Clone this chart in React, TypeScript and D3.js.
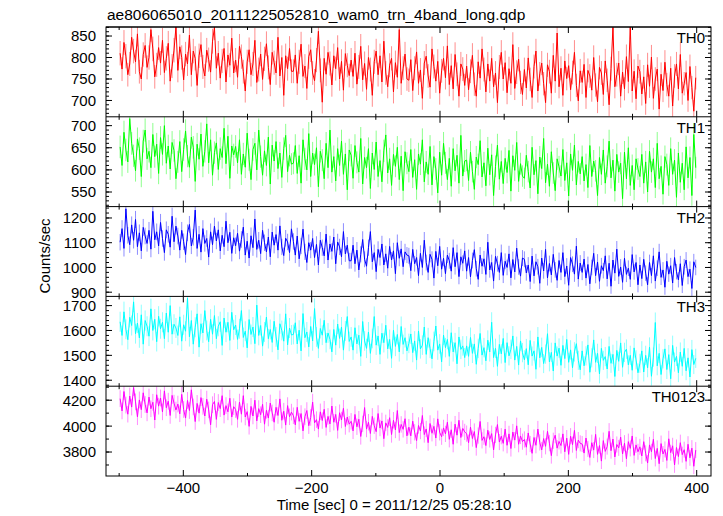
import React from "react";
import * as d3 from "d3";

const TITLE = "ae806065010_20111225052810_wam0_trn_4band_long.qdp";
const X_LABEL = "Time [sec] 0 = 2011/12/25 05:28:10";
const Y_LABEL = "Counts/sec";

const BIN_START = -498.5;
const BIN_WIDTH = 3;

const X_MAJOR = [-400, -200, 0, 200, 400];
const X_MINOR = [-500, -300, -100, 100, 300];

const PANEL_NAMES = ["TH0", "TH1", "TH2", "TH3", "TH0123"];
const COLORS = ["#ff0000", "#00ff00", "#0000ff", "#00ffff", "#ff00ff"];
const Y_DOMAINS = [
  [662, 871],
  [517, 720],
  [883, 1246],
  [1376, 1737],
  [3615, 4308],
];
const Y_MAJOR = [
  [700, 750, 800, 850],
  [550, 600, 650, 700],
  [900, 1000, 1100, 1200],
  [1400, 1500, 1600, 1700],
  [3800, 4000, 4200],
];
const Y_MINOR_STEP = [10, 10, 20, 20, 100];

const TH0 = [
  810, 773, 835, 803, 760, 785, 847, 815, 790, 855, 767, 750, 807, 828, 777, 800, 865, 820, 755, 783, 823, 787, 840, 765, 798, 833, 745, 780, 817, 871,
  770, 825, 800, 748, 808, 785, 852, 760, 815, 798, 735, 804, 830, 778, 757, 817, 795, 766, 838, 870, 775, 810, 752, 792, 821, 743, 806, 782, 845, 764,
  794, 754, 826, 802, 767, 722, 790, 818, 760, 785, 840, 742, 772, 808, 749, 797, 832, 777, 737, 812, 788, 764, 847, 757, 800, 712, 804, 774, 821, 768,
  768, 806, 740, 790, 831, 756, 780, 728, 802, 818, 764, 746, 794, 861, 770, 696, 798, 761, 812, 786, 736, 804, 774, 823, 750, 791, 724, 809, 782, 758,
  794, 756, 810, 738, 778, 826, 748, 786, 726, 800, 772, 712, 790, 815, 760, 804, 743, 838, 764, 732, 782, 798, 720, 788, 754, 865, 740, 775, 808, 750,
  747, 795, 723, 775, 813, 740, 771, 705, 787, 803, 757, 731, 820, 779, 745, 791, 717, 769, 798, 753, 827, 737, 781, 727, 807, 761, 710, 785, 773, 735,
  780, 725, 768, 805, 738, 710, 790, 752, 820, 772, 720, 785, 745, 798, 732, 764, 695, 778, 812, 750, 788, 718, 774, 740, 830, 728, 766, 796, 742, 714,
  772, 729, 799, 749, 707, 779, 815, 722, 762, 787, 739, 695, 783, 767, 717, 805, 745, 857, 732, 775, 712, 792, 751, 781, 725, 765, 812, 735, 699, 769,
  742, 784, 707, 770, 757, 724, 800, 736, 697, 777, 764, 714, 792, 747, 690, 774, 870, 732, 760, 787, 710, 766, 727, 802, 744, 872, 722, 768, 704, 780,
  767, 715, 755, 693, 783, 733, 801, 705, 750, 773, 680, 761, 723, 789, 737, 710, 775, 687, 757, 785, 727, 807, 717, 739, 765, 700, 779, 730, 675, 753,
];
const TH1 = [
  652, 610, 685, 645, 618, 716, 660, 632, 598, 670, 648, 585, 665, 690, 625, 642, 605, 680, 630, 658, 592, 673, 635, 700, 615, 654, 602, 662, 644, 580,
  618, 664, 596, 646, 688, 631, 606, 674, 651, 574, 658, 624, 681, 608, 642, 704, 616, 668, 588, 639, 661, 601, 648, 628, 694, 614, 676, 581, 654, 634,
  653, 616, 668, 590, 636, 606, 683, 623, 578, 646, 660, 600, 690, 630, 588, 643, 610, 674, 568, 656, 620, 664, 603, 638, 583, 648, 678, 596, 633, 613,
  615, 655, 592, 632, 570, 668, 625, 600, 682, 585, 638, 612, 650, 562, 642, 622, 580, 660, 605, 690, 595, 630, 575, 648, 610, 665, 590, 636, 555, 645,
  633, 581, 655, 617, 595, 671, 568, 628, 605, 648, 558, 638, 601, 663, 585, 621, 573, 643, 679, 593, 625, 565, 635, 608, 651, 578, 631, 553, 641, 615,
  596, 646, 583, 623, 556, 636, 613, 668, 573, 618, 590, 653, 566, 630, 602, 548, 640, 588, 660, 616, 578, 626, 563, 648, 598, 633, 570, 678, 586, 620,
  622, 576, 640, 596, 556, 629, 612, 666, 584, 616, 564, 649, 589, 634, 542, 608, 656, 579, 619, 569, 626, 594, 644, 552, 632, 599, 662, 574, 614, 586,
  581, 633, 596, 559, 651, 589, 621, 546, 629, 603, 671, 571, 613, 563, 641, 593, 553, 625, 607, 586, 646, 576, 616, 541, 636, 599, 656, 566, 619, 591,
  630, 575, 612, 560, 655, 585, 620, 598, 542, 628, 590, 645, 570, 608, 665, 582, 622, 552, 635, 595, 615, 535, 640, 580, 650, 565, 610, 555, 625, 602,
  585, 635, 570, 618, 550, 642, 595, 625, 560, 660, 580, 608, 545, 630, 612, 565, 648, 590, 622, 538, 638, 572, 615, 555, 652, 582, 628, 542, 680, 605,
];
const TH2 = [
  1102, 1157, 1077, 1237, 1130, 1092, 1172, 1110, 1194, 1084, 1140, 1067, 1162, 1127, 1097, 1150, 1074, 1227, 1112, 1144, 1087, 1182, 1117, 1060, 1152, 1134, 1082, 1207, 1104, 1167,
  1127, 1070, 1150, 1104, 1052, 1140, 1174, 1087, 1122, 1232, 1077, 1134, 1062, 1157, 1097, 1117, 1042, 1144, 1092, 1167, 1107, 1152, 1067, 1130, 1084, 1187, 1100, 1142, 1057, 1120,
  1088, 1138, 1066, 1113, 1163, 1050, 1106, 1038, 1128, 1080, 1196, 1073, 1110, 1056, 1150, 1100, 1063, 1123, 1043, 1143, 1090, 1133, 1070, 1168, 1083, 1048, 1118, 1103, 1060, 1156,
  1105, 1050, 1127, 1035, 1087, 1155, 1063, 1020, 1100, 1070, 1117, 1040, 1093, 1010, 1110, 1080, 1047, 1135, 1030, 1095, 1065, 1123, 1015, 1103, 1083, 1043, 1145, 1055, 1090, 1027,
  1027, 1090, 1015, 1070, 990, 1053, 1113, 1033, 1005, 1080, 1145, 1023, 1060, 983, 1073, 1040, 1095, 1010, 1055, 997, 1085, 1030, 1067, 975, 1100, 1037, 1075, 1003, 1063, 1050,
  1047, 987, 1073, 1015, 1040, 967, 1057, 1000, 1110, 1020, 980, 1053, 1033, 957, 1065, 1007, 1085, 993, 1037, 975, 1050, 1027, 985, 1080, 1003, 1060, 963, 1043, 1017, 1067,
  985, 1040, 962, 1028, 1072, 995, 952, 1050, 1005, 1035, 972, 1102, 990, 1020, 945, 1045, 1015, 980, 1060, 968, 1025, 1000, 1055, 958, 1032, 982, 1078, 1002, 965, 1038,
  1033, 978, 1010, 943, 1046, 966, 1023, 1003, 936, 1038, 986, 1073, 958, 1016, 970, 1053, 990, 948, 1028, 980, 1060, 963, 1006, 928, 1040, 1013, 973, 1086, 953, 1018,
  980, 1034, 957, 1012, 934, 1000, 1057, 967, 1022, 944, 1007, 987, 1047, 954, 1017, 924, 1030, 977, 1074, 964, 1002, 940, 1037, 972, 997, 952, 1052, 982, 1020, 930,
  1010, 955, 1033, 977, 930, 1020, 967, 1047, 945, 997, 1063, 960, 990, 920, 1025, 973, 1007, 937, 1040, 983, 950, 1015, 927, 1003, 1030, 963, 993, 915, 1023, 1000,
];
const TH3 = [
  1635, 1580, 1675, 1605, 1563, 1653, 1620, 1715, 1587, 1630, 1570, 1663, 1545, 1640, 1617, 1577, 1687, 1600, 1645, 1555, 1657, 1607, 1633, 1567, 1670, 1593, 1700, 1585, 1625, 1610,
  1580, 1655, 1557, 1623, 1597, 1730, 1575, 1640, 1545, 1613, 1667, 1533, 1627, 1590, 1680, 1600, 1555, 1645, 1585, 1660, 1567, 1617, 1635, 1540, 1650, 1593, 1633, 1560, 1673, 1603,
  1622, 1564, 1607, 1680, 1572, 1597, 1530, 1644, 1584, 1614, 1547, 1702, 1580, 1620, 1537, 1594, 1654, 1567, 1604, 1552, 1637, 1574, 1522, 1627, 1600, 1557, 1667, 1542, 1610, 1582,
  1584, 1631, 1546, 1601, 1518, 1668, 1571, 1594, 1534, 1616, 1558, 1688, 1574, 1528, 1608, 1581, 1641, 1551, 1590, 1564, 1514, 1604, 1541, 1626, 1568, 1614, 1521, 1598, 1656, 1556,
  1574, 1521, 1611, 1546, 1581, 1496, 1636, 1558, 1528, 1594, 1508, 1568, 1656, 1541, 1578, 1504, 1589, 1551, 1621, 1526, 1564, 1488, 1601, 1536, 1584, 1514, 1616, 1544, 1571, 1518,
  1548, 1586, 1511, 1558, 1481, 1598, 1526, 1541, 1614, 1504, 1571, 1528, 1486, 1556, 1618, 1521, 1546, 1474, 1581, 1531, 1564, 1496, 1591, 1514, 1551, 1466, 1574, 1524, 1538, 1491,
  1538, 1496, 1572, 1508, 1546, 1464, 1528, 1588, 1501, 1531, 1478, 1561, 1514, 1633, 1491, 1528, 1456, 1544, 1506, 1568, 1471, 1551, 1498, 1524, 1578, 1481, 1536, 1461, 1558, 1511,
  1482, 1527, 1462, 1560, 1497, 1518, 1444, 1574, 1490, 1532, 1467, 1505, 1587, 1474, 1512, 1437, 1550, 1497, 1529, 1460, 1540, 1487, 1564, 1472, 1522, 1450, 1514, 1547, 1480, 1442,
  1518, 1458, 1498, 1542, 1432, 1490, 1562, 1472, 1508, 1425, 1528, 1480, 1495, 1445, 1536, 1468, 1504, 1415, 1520, 1476, 1550, 1452, 1512, 1525, 1462, 1500, 1440, 1530, 1482, 1430,
  1468, 1518, 1433, 1500, 1450, 1533, 1416, 1493, 1632, 1458, 1508, 1423, 1486, 1526, 1443, 1503, 1406, 1540, 1473, 1496, 1430, 1513, 1456, 1528, 1438, 1490, 1413, 1523, 1463, 1488,
];
const TH0123 = [
  4212, 4117, 4267, 4162, 4092, 4232, 4147, 4298, 4187, 4072, 4202, 4127, 4257, 4167, 4102, 4224, 4134, 4184, 4047, 4242, 4154, 4217, 4110, 4272, 4142, 4192, 4082, 4237, 4177, 4124,
  4170, 4095, 4245, 4128, 4062, 4198, 4120, 4280, 4148, 4035, 4175, 4100, 4220, 4152, 4078, 4208, 4125, 4010, 4165, 4190, 4052, 4182, 4135, 4235, 4085, 4158, 4110, 4215, 4070, 4150,
  4128, 4052, 4185, 4092, 4235, 4070, 4112, 3998, 4152, 4078, 4200, 4040, 4135, 4088, 4168, 4015, 4122, 4062, 4178, 4102, 4030, 4145, 4082, 4210, 4045, 4115, 4008, 4158, 4072, 4108,
  4080, 4010, 4145, 4037, 4097, 3963, 4073, 4120, 4003, 4067, 4185, 4025, 4050, 3977, 4110, 4043, 4130, 3990, 4075, 4017, 4155, 4030, 4090, 3967, 4103, 4047, 4137, 3997, 4070, 4015,
  4037, 3963, 4090, 3995, 4053, 3920, 4017, 4143, 3977, 4030, 3943, 4075, 4003, 3957, 4097, 3985, 4040, 3903, 4025, 3990, 4065, 3935, 4045, 3970, 4120, 3950, 4013, 3975, 4057, 3925,
  3992, 3925, 4038, 3952, 3888, 4005, 3962, 4082, 3935, 3978, 3872, 4020, 3945, 3998, 3908, 4056, 3952, 3918, 3986, 3940, 4030, 3898, 3972, 3860, 4015, 3930, 4045, 3912, 3982, 3955,
  3942, 3872, 3992, 3904, 3958, 3834, 3927, 4036, 3890, 3918, 3850, 3968, 3897, 3942, 3816, 3932, 4012, 3877, 3922, 3867, 3977, 3852, 3940, 3827, 3954, 3892, 4002, 3860, 3924, 3880,
  3897, 3837, 3947, 3862, 3790, 3912, 3852, 3977, 3874, 3816, 3904, 3844, 3960, 3868, 3772, 3887, 3930, 3830, 3882, 3850, 3940, 3802, 3907, 3782, 3922, 3857, 3967, 3812, 3892, 3867,
  3862, 3792, 3908, 3824, 3758, 3872, 3815, 3936, 3782, 3850, 3730, 3888, 3805, 3842, 3960, 3810, 3900, 3762, 3858, 3832, 3915, 3785, 3868, 3748, 3880, 3828, 3924, 3774, 3855, 3802,
  3840, 3770, 3880, 3790, 3715, 3855, 3802, 3898, 3750, 3828, 3710, 3865, 3785, 3820, 3735, 3902, 3795, 3848, 3700, 3835, 3765, 3872, 3780, 3818, 3728, 3860, 3755, 3830, 3690, 3815,
];

const SERIES = [TH0, TH1, TH2, TH3, TH0123];

const W = 723;
const H = 516;
const LEFT = 106;
const RIGHT = 711;
const TOP = 27;
const BOTTOM = 476;
const FONT = "'Liberation Sans', Arial, Helvetica, sans-serif";

export default function App() {
  const x = d3.scaleLinear().domain([-520.5, 422.3]).range([LEFT, RIGHT]);
  const panelH = (BOTTOM - TOP) / SERIES.length;

  return (
    <svg
      width={W}
      height={H}
      style={{ position: "absolute", left: 0, top: 0, background: "#fff" }}
      fontFamily={FONT}
    >
      <rect x={0} y={0} width={W} height={H} fill="#fff" />
      <defs>
        {SERIES.map((_, i) => (
          <clipPath id={`clip${i}`} key={i}>
            <rect x={LEFT} y={TOP + i * panelH} width={RIGHT - LEFT} height={panelH} />
          </clipPath>
        ))}
      </defs>
      <text x={107} y={20} fontSize={15.5} fill="#000">
        {TITLE}
      </text>
      {SERIES.map((vals, i) => {
        const top = TOP + i * panelH;
        const bot = top + panelH;
        const y = d3.scaleLinear().domain(Y_DOMAINS[i]).range([bot, top]);
        const pts = vals.map((v, k) => [BIN_START + k * BIN_WIDTH, v] as [number, number]);
        const line = d3
          .line<[number, number]>()
          .x((d) => x(d[0]))
          .y((d) => y(d[1]));
        const err = pts
          .map((d) => {
            const e = Math.sqrt(d[1]);
            return `M${x(d[0]).toFixed(2)},${y(d[1] - e).toFixed(2)}V${y(d[1] + e).toFixed(2)}`;
          })
          .join("");
        const [d0, d1] = Y_DOMAINS[i];
        const minor = d3.range(Math.ceil(d0 / Y_MINOR_STEP[i]) * Y_MINOR_STEP[i], d1, Y_MINOR_STEP[i]);
        return (
          <g key={i}>
            <g clipPath={`url(#clip${i})`}>
              <path d={err} stroke={COLORS[i]} strokeOpacity={0.45} strokeWidth={1} fill="none" />
              <path d={line(pts) || ""} stroke={COLORS[i]} strokeWidth={1} fill="none" />
            </g>
            {minor.map((v) => (
              <g key={`m${v}`}>
                <line x1={LEFT} x2={LEFT + 3} y1={y(v)} y2={y(v)} stroke="#000" />
                <line x1={RIGHT} x2={RIGHT - 3} y1={y(v)} y2={y(v)} stroke="#000" />
              </g>
            ))}
            {Y_MAJOR[i].map((v) => (
              <g key={`M${v}`}>
                <line x1={LEFT} x2={LEFT + 6} y1={y(v)} y2={y(v)} stroke="#000" />
                <line x1={RIGHT} x2={RIGHT - 6} y1={y(v)} y2={y(v)} stroke="#000" />
                <text x={96} y={y(v)} dy="0.36em" textAnchor="end" fontSize={15} fill="#000">
                  {v}
                </text>
              </g>
            ))}
            {X_MINOR.map((v) => (
              <g key={`xm${v}`}>
                <line x1={x(v)} x2={x(v)} y1={top} y2={top + 3} stroke="#000" />
                <line x1={x(v)} x2={x(v)} y1={bot} y2={bot - 3} stroke="#000" />
              </g>
            ))}
            {X_MAJOR.map((v) => (
              <g key={`xM${v}`}>
                <line x1={x(v)} x2={x(v)} y1={top} y2={top + 6} stroke="#000" />
                <line x1={x(v)} x2={x(v)} y1={bot} y2={bot - 6} stroke="#000" />
              </g>
            ))}
            <line x1={LEFT} x2={RIGHT} y1={top} y2={top} stroke="#000" />
            <text x={705} y={top + 16} textAnchor="end" fontSize={15} fill="#000">
              {PANEL_NAMES[i]}
            </text>
          </g>
        );
      })}
      <rect
        x={LEFT}
        y={TOP}
        width={RIGHT - LEFT}
        height={BOTTOM - TOP}
        fill="none"
        stroke="#000"
        strokeWidth={1}
      />
      {X_MAJOR.map((v) => (
        <text key={v} x={x(v)} y={493} textAnchor="middle" fontSize={15} fill="#000">
          {v < 0 ? `\u2212${Math.abs(v)}` : v}
        </text>
      ))}
      <text x={394} y={510} textAnchor="middle" fontSize={15} fill="#000">
        {X_LABEL}
      </text>
      <text transform="rotate(-90)" x={-256} y={50} textAnchor="middle" fontSize={15} fill="#000">
        {Y_LABEL}
      </text>
    </svg>
  );
}
